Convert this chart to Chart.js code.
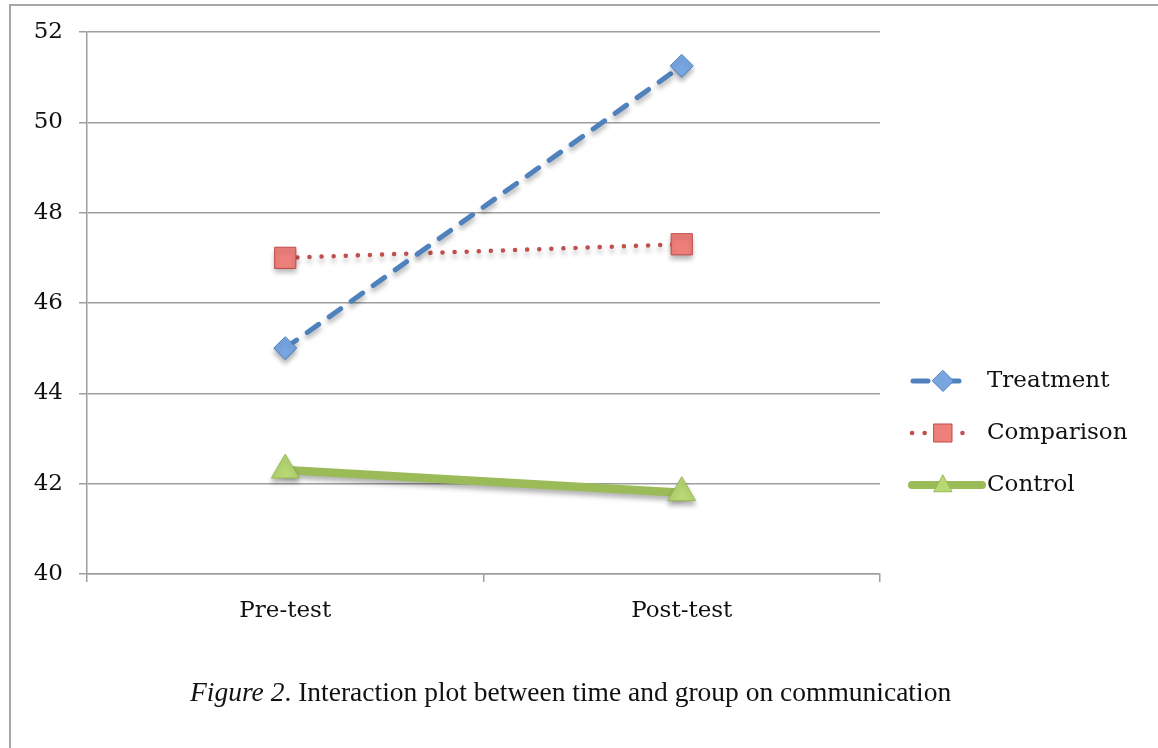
<!DOCTYPE html>
<html>
<head>
<meta charset="utf-8">
<script src="https://cdn.jsdelivr.net/npm/chart.js@4"></script>
<style>
    html, body { margin: 0; padding: 0; background: #fff; }
    #wrap { position: relative; width: 1158px; height: 748px; overflow: hidden; }
    #frame { position: absolute; left: 9px; top: 4px; width: 1160px; height: 760px;
             border-left: 2px solid #a6a6a6; border-top: 2px solid #a6a6a6; }
    #chart { position: absolute; left: 0; top: 0; }
    #caption { position: absolute; left: 190px; top: 676px; font-family: "Liberation Serif", serif;
               font-size: 27.5px; color: #111; white-space: nowrap; }
</style>
</head>
<body>
<div id="wrap">
    <div id="frame"></div>
    <canvas id="chart" width="1158" height="748"></canvas>
    <div id="caption"><i>Figure 2</i>. Interaction plot between time and group on communication</div>
</div>
<script>
// ---- data ----
const categories = ["Pre-test", "Post-test"];
const treatment = [45.0, 51.25];
const comparison = [47.0, 47.3];
const control = [42.3, 41.8];
const yTicks = [40, 42, 44, 46, 48, 50, 52];

const TICK_FONT = { family: "'DejaVu Serif', serif", size: 23 };

// drop shadow under the markers, like the office chart
const markerShadow = {
    id: "markerShadow",
    beforeDatasetDraw(chart) {
        const ctx = chart.ctx;
        ctx.save();
        ctx.shadowColor = "rgba(0,0,0,0.3)";
        ctx.shadowBlur = 5;
        ctx.shadowOffsetY = 4;
    },
    afterDatasetDraw(chart) {
        chart.ctx.restore();
    }
};

// legend on the right, with line sample + marker
const sideLegend = {
    id: "sideLegend",
    afterDraw(chart) {
        const ctx = chart.ctx;
        const tx = 987;
        const rows = [381, 433, 485];
        chart.data.datasets.forEach((ds, i) => {
            const y = rows[i];
            const [x0, x1] = ds.legendSpan;
            ctx.save();
            ctx.strokeStyle = ds.borderColor;
            ctx.lineWidth = ds.legendWidth;
            ctx.lineCap = ds.borderCapStyle || "butt";
            ctx.setLineDash(ds.legendDash || []);
            ctx.beginPath();
            ctx.moveTo(x0, y);
            ctx.lineTo(x1, y);
            ctx.stroke();
            ctx.setLineDash([]);
            const cx = 943;
            const r = ds.legendRadius;
            ctx.fillStyle = ds.pointBackgroundColor;
            ctx.strokeStyle = ds.pointBorderColor;
            ctx.lineWidth = 1;
            ctx.beginPath();
            if (ds.pointStyle === "rectRot") {
                ctx.moveTo(cx, y - r); ctx.lineTo(cx + r, y); ctx.lineTo(cx, y + r); ctx.lineTo(cx - r, y);
            } else if (ds.pointStyle === "rect") {
                ctx.rect(cx - r, y - r, 2 * r, 2 * r);
            } else {
                ctx.moveTo(cx, y - r * 1.1); ctx.lineTo(cx + r, y + r * 0.75); ctx.lineTo(cx - r, y + r * 0.75);
            }
            ctx.closePath();
            ctx.fill();
            ctx.stroke();
            ctx.fillStyle = "#111";
            ctx.font = "23px 'DejaVu Serif', serif";
            ctx.textBaseline = "middle";
            ctx.fillText(ds.label, tx, y);
            ctx.restore();
        });
    }
};

new Chart(document.getElementById("chart").getContext("2d"), {
    type: "line",
    data: {
        labels: categories,
        datasets: [
            {
                label: "Treatment",
                data: treatment,
                borderColor: "#4f81bd",
                borderWidth: 5,
                borderDash: [14, 13],
                borderCapStyle: "round",
                legendDash: [15, 16],
                legendSpan: [913, 973],
                legendWidth: 5,
                pointStyle: "rectRot",
                pointRadius: 11.5,
                pointBackgroundColor: "#78a6e0",
                pointBorderColor: "#4a7ebb",
                pointBorderWidth: 1,
                legendRadius: 10.5
            },
            {
                label: "Comparison",
                data: comparison,
                borderColor: "#c0504d",
                borderWidth: 4.5,
                borderDash: [0.1, 12],
                borderCapStyle: "round",
                legendDash: [0.1, 12.5],
                legendSpan: [912, 974],
                legendWidth: 4.5,
                pointStyle: "rect",
                pointRadius: 15,
                pointBackgroundColor: "#ee7f7b",
                pointBorderColor: "#be4b48",
                pointBorderWidth: 1,
                legendRadius: 9
            },
            {
                label: "Control",
                data: control,
                borderColor: "#9bbb59",
                borderWidth: 8.5,
                borderCapStyle: "round",
                legendSpan: [912, 982],
                legendWidth: 8,
                pointStyle: "triangle",
                pointRadius: 16,
                pointBackgroundColor: "#b8d874",
                pointBorderColor: "#98b954",
                pointBorderWidth: 1,
                legendRadius: 9
            }
        ]
    },
    options: {
        responsive: false,
        animation: false,
        layout: { padding: { top: 32, right: 278, left: 0, bottom: 0 } },
        plugins: {
            legend: { display: false },
            tooltip: { enabled: false }
        },
        scales: {
            x: {
                offset: true,
                afterFit: s => { s.height = 174; },
                grid: { offset: true, drawOnChartArea: false, drawTicks: true, tickLength: 8, color: "#9e9e9e", lineWidth: 1.5 },
                border: { color: "#9e9e9e", width: 1.5 },
                ticks: { font: TICK_FONT, color: "#111", padding: 15 }
            },
            y: {
                min: 40,
                max: 52,
                afterFit: s => { s.width = 87; },
                afterBuildTicks: s => { s.ticks = yTicks.map(v => ({ value: v })); },
                grid: { color: "#9e9e9e", lineWidth: 1.5, tickLength: 8 },
                border: { color: "#9e9e9e", width: 1.5 },
                ticks: { font: TICK_FONT, color: "#111", padding: 16 }
            }
        }
    },
    plugins: [markerShadow, sideLegend]
});
</script>
</body>
</html>
